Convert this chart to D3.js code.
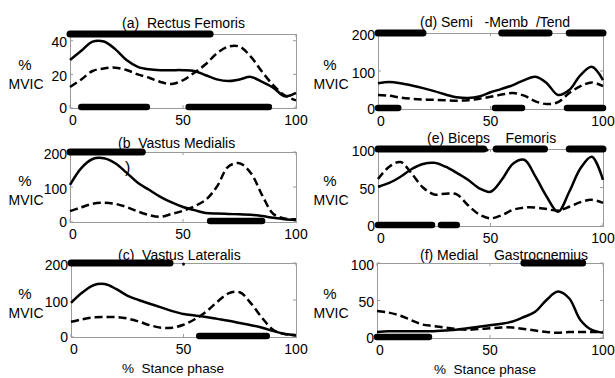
<!DOCTYPE html>
<html>
<head>
<meta charset="utf-8">
<script src="https://cdn.jsdelivr.net/npm/d3@7"></script>
<style>
  body { margin: 0; background: #fff; }
  svg text { font-family: Arial, "Liberation Sans", sans-serif; fill: #000; white-space: pre; }
</style>
</head>
<body>
<svg width="615" height="378"></svg>
<script>
// stance phase samples (%)
var stance = [0, 5, 10, 15, 20, 25, 30, 35, 40, 45, 50, 55, 60, 65, 70, 75, 80, 85, 90, 95, 100];

// (a) rectus femoris
var rfSolid  = [28.5, 34, 39.5, 39.5, 35, 28.5, 24.5, 23, 22.5, 22.5, 22.5, 22, 19.5, 17, 16, 17, 18.5, 15.5, 12, 7, 9];
var rfDashed = [12.5, 17, 22, 23.5, 24, 22.6, 20, 18, 15.5, 14.3, 16.5, 21, 26, 32.5, 36.5, 36.5, 30.5, 21.5, 13.5, 7.5, 4.5];
// (b) vastus medialis
var vmSolid  = [106, 154, 180, 182, 168, 141, 112, 92, 72, 56, 43, 34, 26, 24, 23, 22, 21, 17, 12, 8, 6];
var vmDashed = [31, 42, 52, 55, 52, 43, 30, 20, 15, 23, 32, 45, 63, 101, 158, 168, 140, 77, 23, 10, 8];
// (c) vastus lateralis
var vlSolid  = [92, 120, 140, 143, 130, 112, 100, 90, 80, 70, 62, 58, 54, 49, 44, 38, 32, 25, 16, 8, 5];
var vlDashed = [41, 48, 53, 54, 54, 50, 42, 32, 25, 25, 33, 48, 68, 95, 118, 121, 91, 51, 19, 8, 5];
// (d) semi-memb / tend
var smSolid  = [68, 71, 68, 62, 55, 47, 38, 31, 29, 33, 44, 53, 63, 76, 85, 68, 37, 50, 89, 111, 76];
var smDashed = [37, 35, 30, 27, 25, 24, 23, 22, 23, 27, 32, 38, 42, 35, 20, 13, 18, 42, 60, 70, 60];
// (e) biceps femoris
var bfSolid  = [51, 56, 64, 74, 80.5, 82, 77, 69, 60, 49, 44.5, 60, 81, 86, 64, 38, 18.5, 44.5, 75, 90, 60];
var bfDashed = [61, 77, 83, 68, 50, 41, 42, 41, 27, 15, 10, 14, 21, 24, 24, 22, 20, 25, 31, 34, 30];
// (f) medial gastrocnemius
var mgSolid  = [8, 9, 9, 9, 9, 9, 10, 11, 13, 15, 17, 19, 22, 28, 35, 50.7, 62, 53, 24, 10.7, 7];
var mgDashed = [36, 34, 30, 24, 18, 16, 14, 12, 11, 12, 13, 14, 14, 12, 10, 8, 7, 8, 8, 8, 8];

// activity bars, [start, end] in % stance
var rfTop = [[0, 62]],                      rfBottom = [[5, 34], [52.5, 88]];
var vmTop = [[0, 32]],                      vmBottom = [[62, 85]];
var vlTop = [[0, 44]],                      vlBottom = [[57, 87]];
var smTop = [[0, 20], [55, 76], [85, 100]], smBottom = [[0, 9], [52, 64], [84, 100]];
var bfTop = [[0, 47], [52.5, 74], [85, 100]], bfBottom = [[0, 24], [28, 35]];
var mgTop = [[65, 91]],                     mgBottom = [[0, 23]];
// tiny specks on the top line
var vlDots = [50];
var bfDots = [48.5];

var titles = ["(a)  Rectus Femoris", "(b  Vastus Medialis", "(c)  Vastus Lateralis",
              "(d) Semi   -Memb  /Tend", "(e) Biceps    Femoris", "(f) Medial    Gastrocnemius"];
var yMax = [44, 200, 200, 200, 100, 100];
var yTicks = [[0, 20, 40], [0, 100, 200], [0, 100, 200], [0, 100, 200], [0, 50, 100], [0, 50, 100]];
var xTicks = [0, 50, 100];

var panels = [
  {solid: rfSolid, dashed: rfDashed, top: rfTop, bottom: rfBottom, dots: []},
  {solid: vmSolid, dashed: vmDashed, top: vmTop, bottom: vmBottom, dots: []},
  {solid: vlSolid, dashed: vlDashed, top: vlTop, bottom: vlBottom, dots: vlDots},
  {solid: smSolid, dashed: smDashed, top: smTop, bottom: smBottom, dots: []},
  {solid: bfSolid, dashed: bfDashed, top: bfTop, bottom: bfBottom, dots: bfDots},
  {solid: mgSolid, dashed: mgDashed, top: mgTop, bottom: mgBottom, dots: []}
];

// panel boxes (left, top, right, bottom), title position, y-label x
var layout = [
  {x0: 70, y0: 34, x1: 296, y1: 108, tx: 122, ty: 28, lx: 25},
  {x0: 70, y0: 152, x1: 296, y1: 222, tx: 118, ty: 148, lx: 25},
  {x0: 71, y0: 263, x1: 296, y1: 337, tx: 118, ty: 260, lx: 25},
  {x0: 378, y0: 33, x1: 603, y1: 109, tx: 420, ty: 27, lx: 330},
  {x0: 378, y0: 149, x1: 603, y1: 226, tx: 427, ty: 143, lx: 330},
  {x0: 377, y0: 263, x1: 603, y1: 338, tx: 420, ty: 260, lx: 330}
];

var svg = d3.select("svg");

panels.forEach(function(p, i) {
  var L = layout[i];
  var x = d3.scaleLinear().domain([0, 100]).range([L.x0, L.x1]);
  var y = d3.scaleLinear().domain([0, yMax[i]]).range([L.y1, L.y0]);
  var g = svg.append("g");

  // box
  g.append("rect")
    .attr("x", L.x0 + 0.5).attr("y", L.y0 + 0.5)
    .attr("width", L.x1 - L.x0).attr("height", L.y1 - L.y0)
    .attr("fill", "none").attr("stroke", "#9a9a9a").attr("stroke-width", 1);

  // inward ticks
  yTicks[i].forEach(function(t) {
    g.append("line").attr("x1", L.x0).attr("x2", L.x0 + 3).attr("y1", y(t)).attr("y2", y(t)).attr("stroke", "#9a9a9a");
    g.append("line").attr("x1", L.x1 - 3).attr("x2", L.x1).attr("y1", y(t)).attr("y2", y(t)).attr("stroke", "#9a9a9a");
  });
  xTicks.forEach(function(t) {
    g.append("line").attr("x1", x(t)).attr("x2", x(t)).attr("y1", L.y1).attr("y2", L.y1 - 3).attr("stroke", "#9a9a9a");
    g.append("line").attr("x1", x(t)).attr("x2", x(t)).attr("y1", L.y0).attr("y2", L.y0 + 3).attr("stroke", "#9a9a9a");
  });

  // tick labels
  g.selectAll(".yl").data(yTicks[i]).enter().append("text")
    .attr("x", L.x0 - 3).attr("y", function(d) { return y(d) + (d === 0 ? 1 : 3); })
    .attr("text-anchor", "end").attr("dominant-baseline", "middle")
    .style("font-size", "14px").text(function(d) { return d; });
  g.selectAll(".xl").data(xTicks).enter().append("text")
    .attr("x", function(d) { return x(d) + (d === 0 ? 3 : 0); }).attr("y", L.y1 + 13)
    .attr("text-anchor", "middle").attr("dominant-baseline", "middle")
    .style("font-size", "14px").text(function(d) { return d; });

  // y label
  g.append("text").attr("x", L.lx).attr("y", (L.y0 + L.y1) / 2 - 5)
    .attr("text-anchor", "middle").attr("dominant-baseline", "middle")
    .style("font-size", "15px").text("%");
  g.append("text").attr("x", L.lx + 1).attr("y", (L.y0 + L.y1) / 2 + 14)
    .attr("text-anchor", "middle").attr("dominant-baseline", "middle")
    .style("font-size", "14px").text("MVIC");

  // curves
  var line = function(vals) {
    return d3.line()
      .x(function(d, k) { return x(stance[k]); })
      .y(function(d) { return y(d); })
      .curve(d3.curveCatmullRom.alpha(0.5))(vals);
  };
  g.append("path").attr("d", line(p.dashed))
    .attr("fill", "none").attr("stroke", "#000").attr("stroke-width", 2.5)
    .attr("stroke-dasharray", "8,4");
  g.append("path").attr("d", line(p.solid))
    .attr("fill", "none").attr("stroke", "#000").attr("stroke-width", 2.5);

  // title
  g.append("text").attr("x", L.tx).attr("y", L.ty)
    .style("font-size", "14px").text(titles[i]);

  // activity bars
  g.selectAll(".tb").data(p.top).enter().append("line")
    .attr("x1", function(d) { return x(d[0]); }).attr("x2", function(d) { return x(d[1]); })
    .attr("y1", L.y0).attr("y2", L.y0)
    .attr("stroke", "#000").attr("stroke-width", 7).attr("stroke-linecap", "round");
  g.selectAll(".bb").data(p.bottom).enter().append("line")
    .attr("x1", function(d) { return x(d[0]); }).attr("x2", function(d) { return x(d[1]); })
    .attr("y1", L.y1 - 1).attr("y2", L.y1 - 1)
    .attr("stroke", "#000").attr("stroke-width", 6.5).attr("stroke-linecap", "round");
  g.selectAll(".dt").data(p.dots).enter().append("circle")
    .attr("cx", function(d) { return x(d); }).attr("cy", L.y0 + 1)
    .attr("r", 1.5).attr("fill", "#000");
});

// stray parenthesis from title (b)
svg.append("text").attr("x", 125).attr("y", 173).style("font-size", "16px").text(")");

// x-axis labels
svg.append("text").attr("x", 173).attr("y", 373).attr("text-anchor", "middle")
  .style("font-size", "13.5px").text("%  Stance phase");
svg.append("text").attr("x", 485).attr("y", 374).attr("text-anchor", "middle")
  .style("font-size", "13.5px").text("%  Stance phase");
</script>
</body>
</html>
